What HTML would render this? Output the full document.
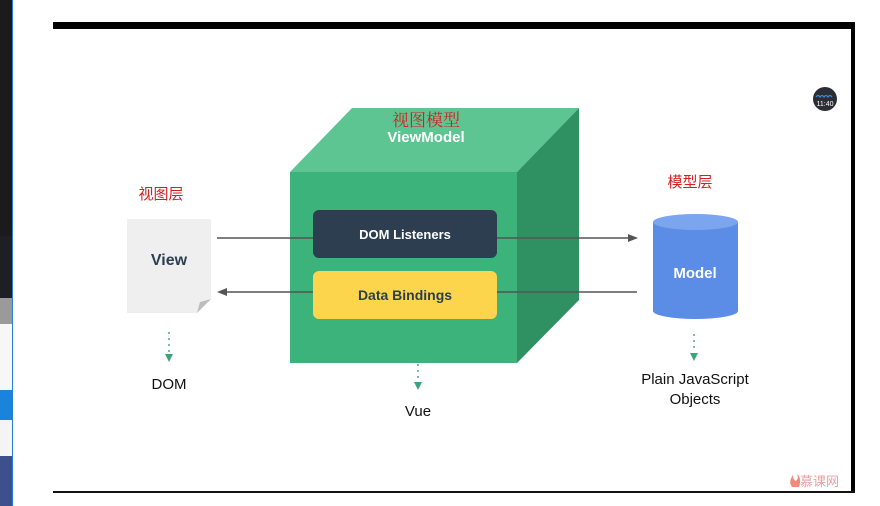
<!DOCTYPE html>
<html><head><meta charset="utf-8"><style>
html,body{margin:0;padding:0;background:#fff;width:880px;height:506px;overflow:hidden}
svg{display:block}
</style></head><body>
<svg width="880" height="506" viewBox="0 0 880 506" xmlns="http://www.w3.org/2000/svg" font-family="'Liberation Sans','Noto Sans CJK SC',sans-serif">
<rect width="880" height="506" fill="#fff"/>
<!-- left strip -->
<rect x="0" y="0" width="12" height="236" fill="#1b1b1d"/>
<rect x="0" y="236" width="12" height="62" fill="#1e1f24"/>
<rect x="0" y="298" width="12" height="26" fill="#9a9a9a"/>
<rect x="0" y="324" width="12" height="66" fill="#f7f7f7"/>
<rect x="0" y="390" width="12" height="30" fill="#1a84dc"/>
<rect x="0" y="420" width="12" height="36" fill="#f4f4f4"/>
<rect x="0" y="456" width="12" height="50" fill="#3d4f8c"/>
<rect x="12" y="0" width="1" height="506" fill="#2a7fd5"/>
<!-- frame -->
<rect x="53" y="22" width="802" height="7" fill="#000"/>
<rect x="851" y="22" width="4" height="471" fill="#000"/>
<rect x="53" y="491" width="802" height="2" fill="#111"/>
<!-- cube -->
<polygon points="290,172 352,108 579,108 517,172" fill="#5cc592"/>
<polygon points="517,172 579,108 579,300 517,363" fill="#2f9162"/>
<rect x="290" y="172" width="227" height="191" fill="#3bb37b"/>
<text x="426" y="126" font-size="17" fill="#d42020" text-anchor="middle" font-family="'Noto Serif CJK SC',serif">视图模型</text>
<text x="426" y="142" font-size="15" font-weight="bold" fill="#fff" text-anchor="middle">ViewModel</text>
<!-- lines -->
<line x1="217" y1="238" x2="630" y2="238" stroke="#555" stroke-width="1.5"/>
<polygon points="638,238 628,234 628,242" fill="#555"/>
<line x1="226" y1="292" x2="637" y2="292" stroke="#555" stroke-width="1.5"/>
<polygon points="217,292 227,288 227,296" fill="#555"/>
<rect x="313" y="210" width="184" height="48" rx="6" fill="#2c3e50"/>
<text x="405" y="239" font-size="13" font-weight="bold" fill="#fff" text-anchor="middle">DOM Listeners</text>
<rect x="313" y="271" width="184" height="48" rx="6" fill="#fdd54c"/>
<text x="405" y="300" font-size="14" font-weight="bold" fill="#2c3e50" text-anchor="middle">Data Bindings</text>
<!-- view -->
<text x="161" y="199" font-size="15" fill="#d42020" text-anchor="middle">视图层</text>
<polygon points="127,219 211,219 211,299 197,313 127,313" fill="#efefef"/>
<polygon points="211,299 197,313 200,302" fill="#bdbdbd"/>
<text x="169" y="265" font-size="16" font-weight="bold" fill="#2c3e50" text-anchor="middle">View</text>
<!-- model -->
<text x="690" y="187" font-size="15" fill="#d42020" text-anchor="middle">模型层</text>
<path d="M653,222 L653,311 A42.5,8 0 0 0 738,311 L738,222 Z" fill="#5b8de6"/>
<ellipse cx="695.5" cy="222" rx="42.5" ry="8" fill="#7ba5ef"/>
<text x="695" y="278" font-size="15" font-weight="bold" fill="#fff" text-anchor="middle">Model</text>
<!-- dotted arrows -->
<g stroke="#4aa889" stroke-width="1.5" stroke-dasharray="2,4">
<line x1="169" y1="332" x2="169" y2="352"/>
<line x1="418" y1="364" x2="418" y2="380"/>
<line x1="694" y1="334" x2="694" y2="352"/>
</g>
<polygon points="165,354 173,354 169,362" fill="#3aa57a"/>
<polygon points="414,382 422,382 418,390" fill="#3aa57a"/>
<polygon points="690,353 698,353 694,361" fill="#3aa57a"/>
<text x="169" y="389" font-size="15" fill="#111" text-anchor="middle">DOM</text>
<text x="418" y="416" font-size="15" fill="#111" text-anchor="middle">Vue</text>
<text x="695" y="384" font-size="15" fill="#111" text-anchor="middle">Plain JavaScript</text>
<text x="695" y="404" font-size="15" fill="#111" text-anchor="middle">Objects</text>
<!-- badge -->
<circle cx="825" cy="99" r="12" fill="#2a2d33"/>
<path d="M816,97 q2,-3 4,0 q2,-3 4,0 q2,-3 4,0 q2,-3 4,0" stroke="#3d8fe0" stroke-width="1.2" fill="none"/>
<text x="825" y="106" font-size="7" fill="#fff" text-anchor="middle">11:40</text>
<!-- watermark -->
<path d="M792,487 q-4,-5 1,-12 q0,5 3,6 q3,-3 1,-7 q5,4 2,13 z" fill="#f08a7a"/>
<text x="800" y="486" font-size="13" fill="#e8a0a0">慕课网</text>
</svg>
</body></html>
